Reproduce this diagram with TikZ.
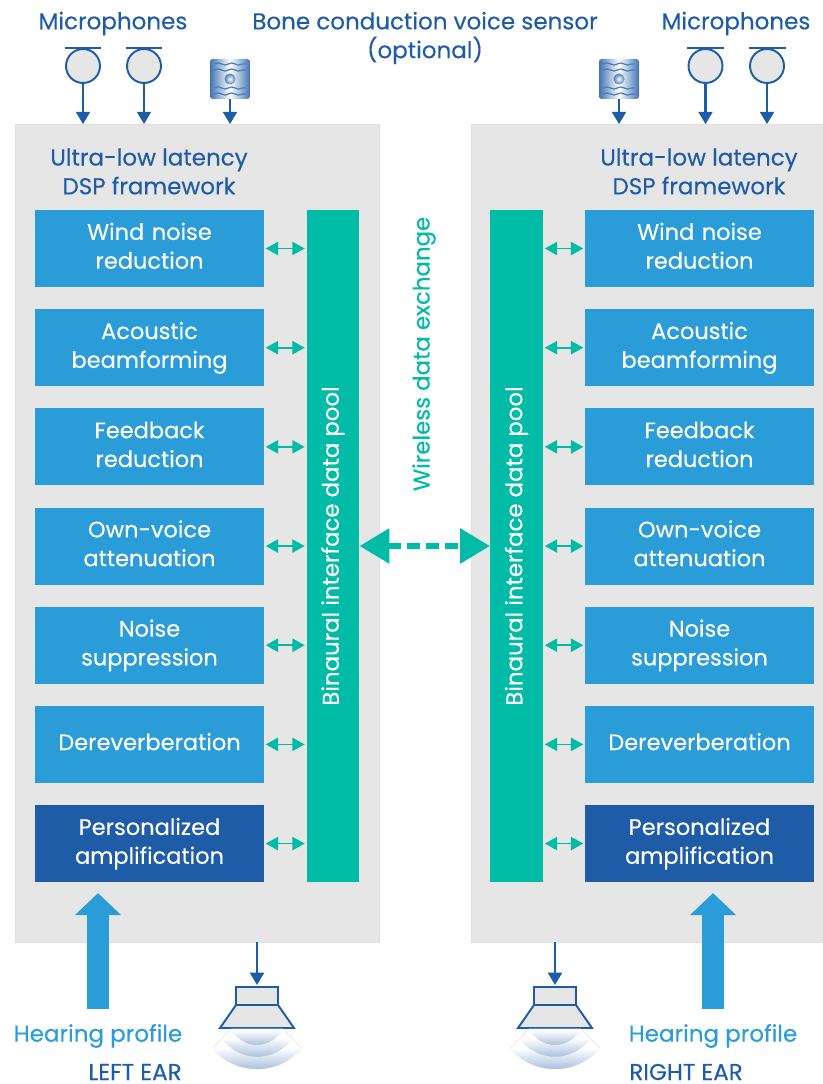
\documentclass[tikz,border=0pt]{standalone}
\usepackage{fontspec}
\setmainfont{Poppins}[FakeBold=0.25]
\usetikzlibrary{shapes, arrows.meta, positioning, decorations.pathmorphing}
\definecolor{panelgray}{HTML}{E6E6E6}
\definecolor{procblue}{HTML}{2A9DD9}
\definecolor{darkblue}{HTML}{1F5CA8}
\definecolor{poolteal}{HTML}{00BBA5}
\definecolor{bandblue}{HTML}{8FADD3}
\tikzstyle{panel} = [rectangle, minimum height=16.36cm, inner sep=0pt, outer sep=0pt, fill=panelgray, draw=black!12, line width=.4pt]
\tikzstyle{proc} = [rectangle, text width=4.5cm, minimum width=4.58cm, minimum height=1.54cm, inner sep=0pt, outer sep=0pt, text centered, fill=procblue, text=white, font=\fontsize{12.8}{16.4}\selectfont, execute at begin node=\strut, execute at end node=\strut]
\tikzstyle{amp} = [proc, fill=darkblue]
\tikzstyle{pool} = [rectangle, minimum width=1.05cm, minimum height=13.44cm, inner sep=0pt, fill=poolteal]
\tikzstyle{pooltext} = [rotate=90, text=white, font=\fontsize{13}{16.4}\selectfont]
\tikzstyle{head} = [text=darkblue, align=center, inner ysep=0pt, font=\fontsize{13.1}{16.4}\selectfont]
\tikzstyle{mic} = [circle, minimum size=.68cm, inner sep=0pt, draw=darkblue, fill=panelgray, line width=1.1pt]
\tikzstyle{sensor} = [rectangle, rounded corners=1.5pt, minimum size=.8cm, inner sep=0pt, left color=darkblue!85, right color=darkblue!85, middle color=white]
\tikzstyle{arrow} = [darkblue, line width=1.2pt, -{Triangle[width=8pt,length=7pt]}]
\tikzstyle{link} = [poolteal, line width=1pt, {Triangle[width=7.5pt,length=7pt]}-{Triangle[width=7.5pt,length=7pt]}, shorten <=1pt, shorten >=1pt]
\tikzstyle{wireless} = [poolteal, line width=3.7pt, dash pattern=on 7.4pt off 3.4pt, {Triangle[width=19.3pt,length=17pt]}-{Triangle[width=19.3pt,length=17pt]}]
\tikzstyle{profile} = [procblue, line width=13pt, -{Triangle[width=25.5pt,length=12.5pt]}, shorten >=.22cm]
\tikzstyle{spk} = [draw=darkblue, fill=panelgray, line width=1.1pt, line join=miter]
\begin{document}
\begin{tikzpicture}[x=0.02cm, y=-0.02cm, node distance=.444cm]
   \useasboundingbox (0,0) rectangle (822,1084);
   \node (panelL) [panel, minimum width=7.28cm] at (197,533) {};
   \node (panelR) [panel, minimum width=7.02cm] at (646.5,533) {};

   % left ear column
   \node (windL) [proc] at (149.5,248.5) {Wind noise\\reduction};
   \node (beamL) [proc, below=of windL] {Acoustic\\beamforming};
   \node (feedL) [proc, below=of beamL] {Feedback\\reduction};
   \node (voiceL) [proc, below=of feedL] {Own-voice\\attenuation};
   \node (noiseL) [proc, below=of voiceL] {Noise\\suppression};
   \node (dereL) [proc, below=of noiseL] {Dereverberation};
   \node (ampL) [amp, below=of dereL] {Personalized\\amplification};
   \node (poolL) [pool] at (333,546) {};
   \node (poolLtext) [pooltext] at (poolL) {Binaural interface data pool};

   % right ear column
   \node (windR) [proc] at (699.5,248.5) {Wind noise\\reduction};
   \node (beamR) [proc, below=of windR] {Acoustic\\beamforming};
   \node (feedR) [proc, below=of beamR] {Feedback\\reduction};
   \node (voiceR) [proc, below=of feedR] {Own-voice\\attenuation};
   \node (noiseR) [proc, below=of voiceR] {Noise\\suppression};
   \node (dereR) [proc, below=of noiseR] {Dereverberation};
   \node (ampR) [amp, below=of dereR] {Personalized\\amplification};
   \node (poolR) [pool] at (516.5,546) {};
   \node (poolRtext) [pooltext] at (poolR) {Binaural interface data pool};

   \foreach \n in {wind,beam,feed,voice,noise,dere,amp} {
      \draw [link] (\n L.east) -- (\n L.east -| poolL.west);
      \draw [link] (\n R.west) -- (\n R.west -| poolR.east);
   }

   \draw [wireless] (poolL.east) -- (poolR.west);
   \node (wirelessText) [rotate=90, text=poolteal, font=\fontsize{13}{16.4}\selectfont] at (424,354) {Wireless data exchange};

   % texts on top
   \node (micsL) [head] at (113,23.5) {Microphones};
   \node (micsR) [head] at (736,23.5) {Microphones};
   \node (bone) [head] at (425,38) {Bone conduction voice sensor\\(optional)};
   \node (dspL) [head] at (149,171.5) {Ultra-low latency\\DSP framework};
   \node (dspR) [head] at (699,171.5) {Ultra-low latency\\DSP framework};

   % microphones
   \node (micL1) [mic] at (83,66) {};
   \node (micL2) [mic] at (144,66) {};
   \node (micR1) [mic] at (705.5,66) {};
   \node (micR2) [mic] at (767,66) {};
   \foreach \m/\p in {micL1/panelL,micL2/panelL,micR1/panelR,micR2/panelR} {
      \draw [darkblue, line width=1.1pt] ([xshift=-.37cm]\m.north) -- ([xshift=.37cm]\m.north);
      \draw [arrow] (\m) -- (\m |- \p.north);
   }

   % voice sensors
   \node (sensL) [sensor] at (230,79) {};
   \node (sensR) [sensor] at (619,79) {};
   \foreach \s/\p in {sensL/panelL,sensR/panelR} {
      \draw [arrow] (\s) -- (\s |- \p.north);
      \begin{scope}[shift={(\s.center)}, darkblue!80, line width=.7pt, decoration={snake, amplitude=.6pt, segment length=.27cm}]
         \foreach \y in {-15,-9,9,15}
            \draw [decorate] (-16,\y) -- (16,\y);
         \shade [inner color=white, outer color=darkblue!80] (0,0) circle (5.5);
      \end{scope}
   }

   % speakers
   \node (spkL) [rectangle, minimum width=.84cm, minimum height=.36cm, inner sep=0pt, spk] at (257,996) {};
   \node (spkR) [rectangle, minimum width=.84cm, minimum height=.36cm, inner sep=0pt, spk] at (555,996) {};
   \foreach \s/\p in {spkL/panelL,spkR/panelR} {
      \draw [arrow, shorten >=.6pt] (\s |- \p.south) -- (\s.north);
      \begin{scope}[shift={(\s.center)}]
         \draw [spk] (-21,9) -- (21,9) -- (37,32) -- (-37,32) -- cycle;
         \draw [black!12, line width=.3pt, fill=white] (-26,33) -- (-44.5,52) .. controls (-22,80) and (22,80) .. (44.5,52) -- (26,33) -- cycle;
         \shade [top color=white, bottom color=bandblue] (-44.5,52) .. controls (-22,80) and (22,80) .. (44.5,52) -- cycle;
         \shade [top color=white, bottom color=bandblue] (-36,42) .. controls (-18,67) and (18,67) .. (36,42) -- cycle;
         \shade [top color=white, bottom color=bandblue] (-26,34) .. controls (-12,54) and (12,54) .. (26,34) -- cycle;
      \end{scope}
   }

   % hearing profile
   \coordinate (profL) at (98,1009);
   \coordinate (profR) at (713,1009);
   \draw [profile] (profL) -- (profL |- ampL.south);
   \draw [profile] (profR) -- (profR |- ampR.south);
   \node (hearL) [text=procblue, inner ysep=0pt, font=\fontsize{13.1}{16.4}\selectfont] at (98,1036) {Hearing profile};
   \node (hearR) [text=procblue, inner ysep=0pt, font=\fontsize{13.1}{16.4}\selectfont] at (713,1036) {Hearing profile};
   \node (earL) [head, anchor=east, inner xsep=0pt] at (182,1072) {LEFT EAR};
   \node (earR) [head, anchor=west, inner xsep=0pt] at (629,1072) {RIGHT EAR};
\end{tikzpicture}
\end{document}
